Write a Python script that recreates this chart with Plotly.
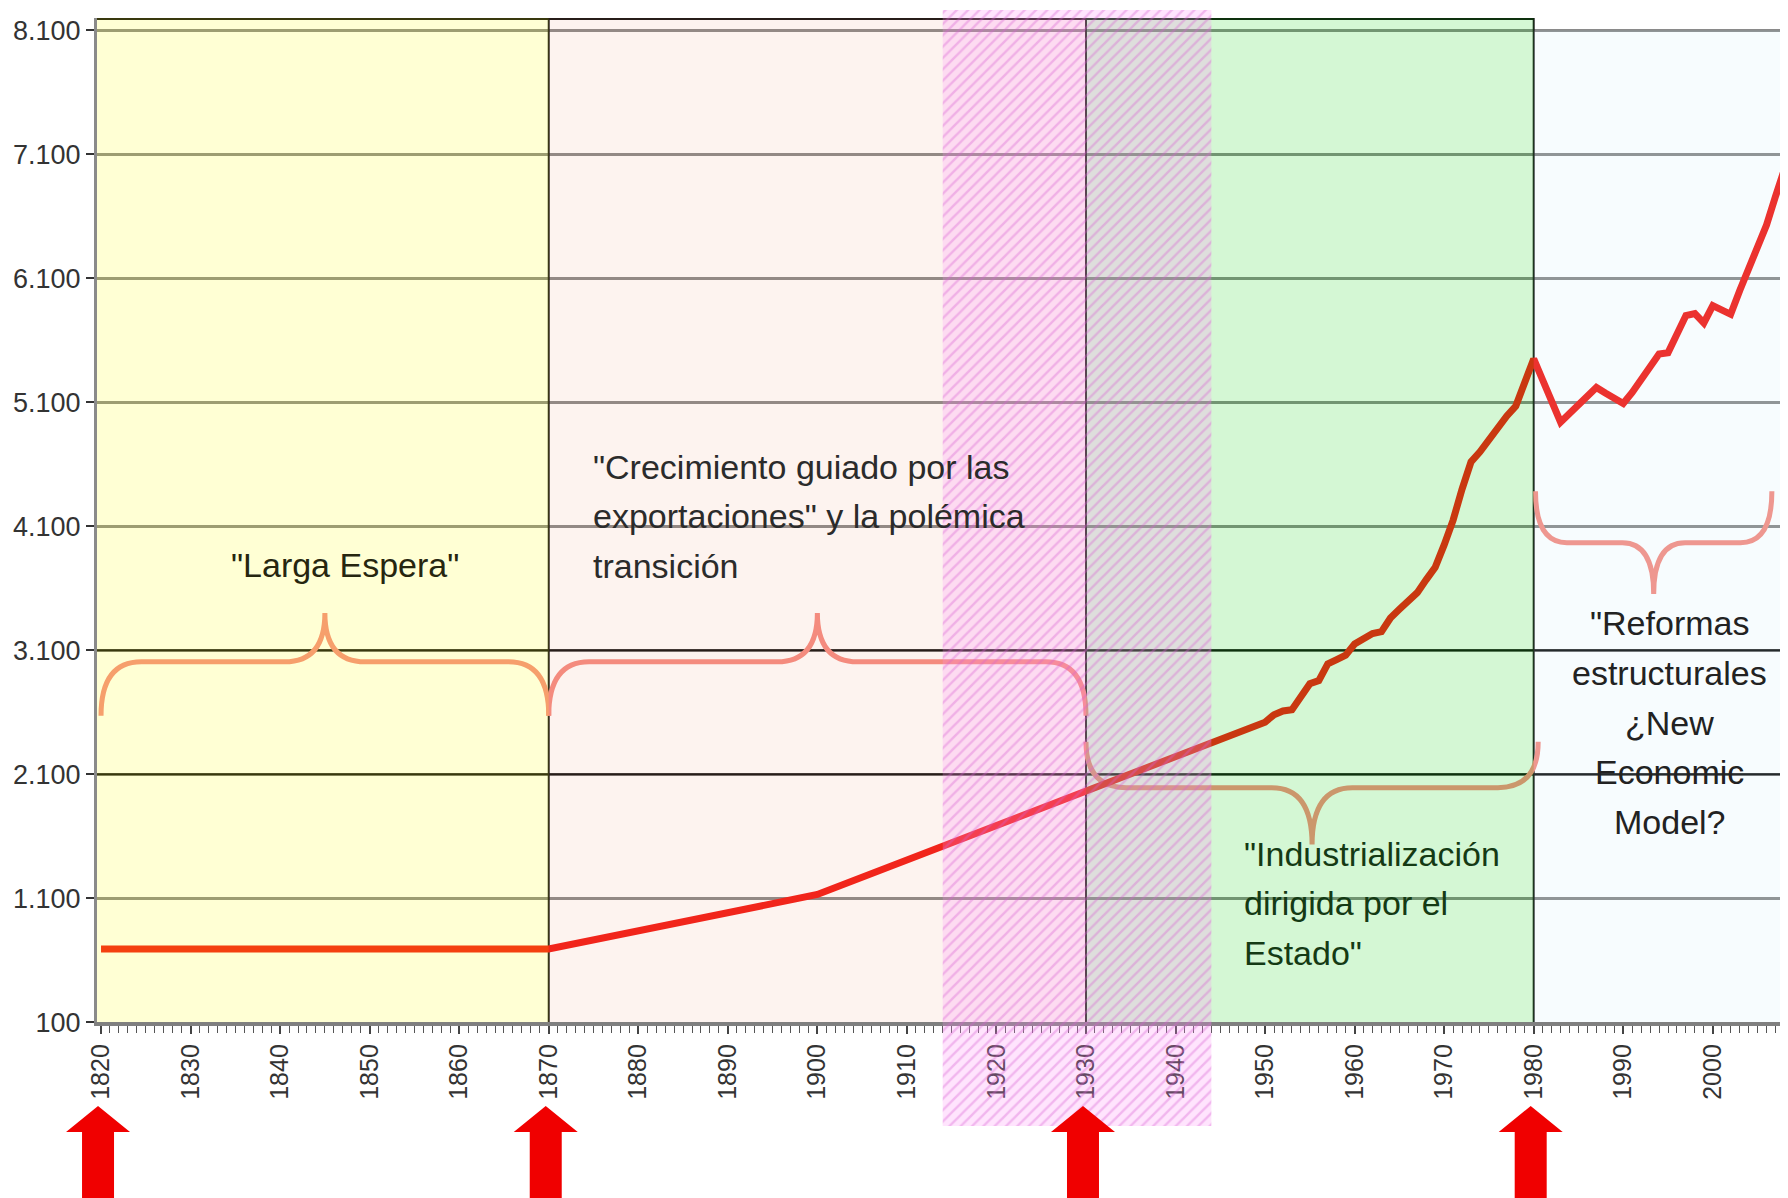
import plotly.graph_objects as go

# PIB per cápita
years = [1820, 1870, 1900] + list(range(1950, 2009))
gdp = [
    690, 690, 1130,
    2520, 2580, 2610, 2620, 2720, 2830, 2855, 2990, 3025, 3060,  # 1950-1959
    3150, 3195, 3235, 3250, 3360, 3430, 3500, 3565, 3670, 3770,  # 1960-1969
    3950, 4150, 4400, 4620, 4700, 4800, 4900, 4990, 5070, 5250,  # 1970-1979
    5450, 5280, 5110, 4940, 5010, 5080, 5150, 5220, 5175, 5130,  # 1980-1989
    5090, 5180, 5280, 5380, 5490, 5500, 5650, 5800, 5815, 5740,  # 1990-1999
    5880, 5850, 5810, 6000, 6180, 6350, 6530, 6760, 6980,        # 2000-2008
]

period_edges = [1870, 1930, 1980]
arrow_years = [1820, 1870, 1930, 1980]
war_years = [1914, 1944]

labels = [
    ['"Larga Espera"'],
    ['"Crecimiento guiado por las', 'exportaciones" y la polémica', 'transición'],
    ['"Industrialización', 'dirigida por el', 'Estado"'],
    ['"Reformas', 'estructurales', '¿New', 'Economic', 'Model?'],
]

# el body de la página añade 8 px de margen: la figura se dibuja desde (8, 8)
PAGE_OFF = 8
W, H = 1788 - PAGE_OFF, 1198 - PAGE_OFF
M_L, M_R, M_T, M_B = 97 - PAGE_OFF, 0, 0, 72
PLOT_TOP, PLOT_BOTTOM = 16, 1022  # filas de la página
PLOT_W = W - M_L - M_R
PAPER_H = H - M_T - M_B
X_RANGE = [1819.55, 2008.4]
Y_RANGE = [100, 8200]
LINE_STEP = 400  # separación entre renglones, en unidades del eje y

FONT = "Liberation Sans, Arial, sans-serif"


def py(row):
    # fila de la página -> fracción del papel
    return (H - M_B - (row - PAGE_OFF)) / PAPER_H


def brace_path(x0, x1, y_end, y_mid, y_tip, r_end, r_tip):
    xc = (x0 + x1) / 2
    return (f"M {x0},{y_end} Q {x0},{y_mid} {x0 + r_end},{y_mid} "
            f"L {xc - r_tip},{y_mid} Q {xc},{y_mid} {xc},{y_tip} "
            f"Q {xc},{y_mid} {xc + r_tip},{y_mid} "
            f"L {x1 - r_end},{y_mid} Q {x1},{y_mid} {x1},{y_end}")


def arrow_path(year):
    xc = (year - X_RANGE[0]) / (X_RANGE[1] - X_RANGE[0]) - 3 / PLOT_W
    hw, sw = 32 / PLOT_W, 16 / PLOT_W
    tip, base, end = py(1106), py(1132), py(1215)
    pts = [(xc, tip), (xc + hw, base), (xc + sw, base), (xc + sw, end),
           (xc - sw, end), (xc - sw, base), (xc - hw, base)]
    return "M " + " L ".join(f"{x:.5f},{y:.5f}" for x, y in pts) + " Z"


fig = go.Figure()
fig.add_trace(go.Scatter(
    x=years, y=gdp, mode="lines",
    line=dict(color="#F21A14", width=7),
    hoverinfo="skip", showlegend=False,
))

# velos de color de cada etapa, por encima de la curva
overlays = [
    (X_RANGE[0], 1870, 8200, "rgba(255,255,0,0.17)"),
    (1870, 1930, 8200, "rgba(240,140,100,0.10)"),
    (1930, 1980, 8200, "rgba(0,210,0,0.17)"),
    (1980, X_RANGE[1], 8100, "rgba(190,230,245,0.12)"),
]
for x0, x1, y1, col in overlays:
    fig.add_trace(go.Scatter(
        x=[x0, x1, x1, x0, x0], y=[Y_RANGE[0], Y_RANGE[0], y1, y1, Y_RANGE[0]],
        mode="lines", line=dict(width=0), fill="toself", fillcolor=col,
        hoverinfo="skip", showlegend=False,
    ))

# rayado 1914-1944 (subplot superpuesto que se sale del área de trazado)
fig.add_trace(go.Scatter(
    x=[war_years[0], war_years[1], war_years[1], war_years[0], war_years[0]],
    y=[0, 0, 1, 1, 0],
    xaxis="x2", yaxis="y2", mode="lines", line=dict(width=0),
    fill="toself", fillcolor="rgba(255,140,245,0.24)",
    fillpattern=dict(shape="/", fgcolor="rgb(215,95,210)", fgopacity=0.35,
                     bgcolor="rgba(255,140,245,0.24)", size=8, solidity=0.3),
    hoverinfo="skip", showlegend=False,
))

shapes = []
for yv in (2100, 3100):
    shapes.append(dict(type="line", xref="x", yref="y", x0=X_RANGE[0], x1=X_RANGE[1], y0=yv, y1=yv,
                       line=dict(color="#111111", width=2), layer="between"))
for xe in period_edges:
    shapes.append(dict(type="line", xref="x", yref="y", x0=xe, x1=xe, y0=Y_RANGE[0], y1=Y_RANGE[1],
                       line=dict(color="#1A1A1A", width=2), layer="between"))
shapes.append(dict(type="line", xref="x", yref="y", x0=X_RANGE[0], x1=period_edges[-1],
                   y0=Y_RANGE[1], y1=Y_RANGE[1], line=dict(color="#111111", width=4), layer="between"))

braces = [
    (1820, 1870, 2572, 3007, 3401, 4.5, 4.5),
    (1870, 1930, 2572, 3007, 3401, 4.5, 4.5),
    (1930, 1980.5, 2362, 1992, 1533, 4.5, 4.5),
    (1980.2, 2006.6, 4383, 3968, 3554, 3.5, 3.5),
]
for b in braces:
    shapes.append(dict(type="path", xref="x", yref="y", path=brace_path(*b),
                       line=dict(color="#F58C82", width=5), layer="between"))

for ay in arrow_years:
    shapes.append(dict(type="path", xref="paper", yref="paper", path=arrow_path(ay),
                       fillcolor="#F00000", line=dict(width=0), layer="above"))

ann_pos = [
    (1847.3, 3784, "center", "#26260F"),
    (1874.7, 4182, "left", "#2B2B2B"),
    (1947.4, 1058, "left", "#143A14"),
    (1995.2, 2517, "center", "#222222"),
]
annotations = []
for lines, (ax, ay, al, col) in zip(labels, ann_pos):
    n = len(lines)
    for i, ln in enumerate(lines):
        annotations.append(dict(x=ax, y=ay + ((n - 1) / 2 - i) * LINE_STEP, xref="x", yref="y",
                                text=ln, showarrow=False, xanchor=al, yanchor="middle",
                                font=dict(family=FONT, size=34, color=col)))

y_dom = [py(PLOT_BOTTOM), py(PLOT_TOP)]

fig.update_layout(
    width=W, height=H,
    margin=dict(l=M_L, r=M_R, t=M_T, b=M_B),
    paper_bgcolor="white", plot_bgcolor="rgba(0,0,0,0)",
    separators=",.",
    showlegend=False,
    shapes=shapes,
    annotations=annotations,
    xaxis=dict(
        range=X_RANGE, domain=[0, 1], anchor="y", layer="below traces",
        tick0=1820, dtick=10, tickangle=-90,
        ticks="outside", ticklen=8, tickwidth=2, tickcolor="#444444",
        minor=dict(dtick=1, ticks="outside", ticklen=7, tickwidth=1, tickcolor="#555555"),
        showgrid=False, zeroline=False,
        showline=True, linecolor="#808080", linewidth=4,
        tickfont=dict(family=FONT, size=25, color="#333333"),
    ),
    yaxis=dict(
        range=Y_RANGE, domain=y_dom, anchor="x", layer="below traces",
        tick0=100, dtick=1000, tickformat=",d",
        ticks="outside", ticklen=8, tickwidth=2, tickcolor="#333333",
        showgrid=True, gridcolor="#8A8A8A", gridwidth=3, zeroline=False,
        showline=True, linecolor="#8A8A8A", linewidth=3,
        tickfont=dict(family=FONT, size=27, color="#333333"),
    ),
    xaxis2=dict(range=X_RANGE, domain=[0, 1], anchor="y2", visible=False, fixedrange=True),
    yaxis2=dict(range=[0, 1], domain=[0, 1], anchor="x2", visible=False, fixedrange=True),
)

fig.write_html("out.html")
